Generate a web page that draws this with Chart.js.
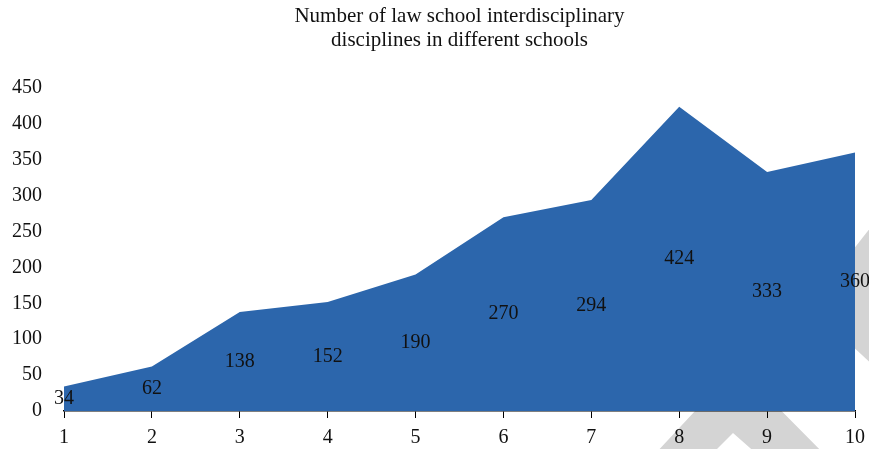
<!DOCTYPE html>
<html>
<head>
<meta charset="utf-8">
<script src="https://cdn.jsdelivr.net/npm/chart.js@4.4.1/dist/chart.umd.min.js"></script>
<style>
  html, body { margin: 0; padding: 0; background: #ffffff; }
  #wrap { width: 869px; height: 449px; }
</style>
</head>
<body>
<div id="wrap"><canvas id="c" width="869" height="449"></canvas></div>
<script>
// School index on the x axis and number of interdisciplinary disciplines per school
const schools = ['1', '2', '3', '4', '5', '6', '7', '8', '9', '10'];
const disciplineCounts = [34, 62, 138, 152, 190, 270, 294, 424, 333, 360];
const titleLines = ['Number of law school interdisciplinary', 'disciplines in different schools'];
const yMax = 450;
const yStep = 50;

const serif = '"Liberation Serif", "DejaVu Serif", serif';

// Light grey chevron shapes sitting behind everything else
const backdrop = {
  id: 'backdrop',
  beforeDraw(chart) {
    const ctx = chart.ctx;
    ctx.save();
    ctx.fillStyle = '#d4d4d4';
    // upward chevron under the x axis
    ctx.beginPath();
    ctx.moveTo(640, 470);
    ctx.lineTo(737, 366);
    ctx.lineTo(840, 470);
    ctx.lineTo(775, 470);
    ctx.lineTo(733, 433);
    ctx.lineTo(696, 470);
    ctx.closePath();
    ctx.fill();
    // leftward chevron at the right edge
    ctx.beginPath();
    ctx.moveTo(900, 190);
    ctx.lineTo(809, 306);
    ctx.lineTo(900, 390);
    ctx.closePath();
    ctx.fill();
    ctx.restore();
  }
};

// Two-line title centred over the plotting area
const centredTitle = {
  id: 'centredTitle',
  afterDraw(chart) {
    const ctx = chart.ctx;
    const area = chart.chartArea;
    const cx = (area.left + area.right) / 2;
    ctx.save();
    ctx.font = '21px ' + serif;
    ctx.fillStyle = '#111111';
    ctx.textAlign = 'center';
    ctx.textBaseline = 'middle';
    titleLines.forEach((line, i) => ctx.fillText(line, cx, 16 + i * 24));
    ctx.restore();
  }
};

// Value labels placed halfway up each point's column
const midLabels = {
  id: 'midLabels',
  afterDatasetsDraw(chart) {
    const ctx = chart.ctx;
    const yScale = chart.scales.y;
    const meta = chart.getDatasetMeta(0);
    const values = chart.data.datasets[0].data;
    ctx.save();
    ctx.font = '20px ' + serif;
    ctx.fillStyle = '#111111';
    ctx.textAlign = 'center';
    ctx.textBaseline = 'middle';
    meta.data.forEach((pt, i) => {
      const v = values[i];
      ctx.fillText(String(v), pt.x, yScale.getPixelForValue(v / 2));
    });
    ctx.restore();
  }
};

new Chart(document.getElementById('c'), {
  type: 'line',
  data: {
    labels: schools,
    datasets: [{
      data: disciplineCounts,
      fill: 'origin',
      backgroundColor: '#2c66ac',
      borderColor: '#2c66ac',
      borderWidth: 0,
      pointRadius: 0,
      tension: 0
    }]
  },
  plugins: [backdrop, midLabels, centredTitle],
  options: {
    responsive: false,
    animation: false,
    events: [],
    layout: { padding: { top: 88, right: 14, bottom: 0, left: 0 } },
    plugins: {
      legend: { display: false },
      tooltip: { enabled: false },
      title: { display: false }
    },
    scales: {
      x: {
        offset: false,
        grid: {
          display: true,
          drawOnChartArea: false,
          drawTicks: true,
          tickLength: 7,
          color: '#000000',
          lineWidth: 1
        },
        border: { display: true, color: '#000000', width: 1.5 },
        ticks: {
          color: '#111111',
          font: { family: serif, size: 20 },
          padding: 8,
          maxRotation: 0
        },
        afterFit(scale) {
          scale.height = 38;
          scale.paddingLeft = 0;
          scale.paddingRight = 0;
        }
      },
      y: {
        min: 0,
        max: yMax,
        grid: { display: false, drawTicks: false },
        border: { display: false },
        ticks: {
          stepSize: yStep,
          color: '#111111',
          font: { family: serif, size: 20 },
          padding: 22
        },
        afterFit(scale) { scale.width = 64; }
      }
    }
  }
});
</script>
</body>
</html>
